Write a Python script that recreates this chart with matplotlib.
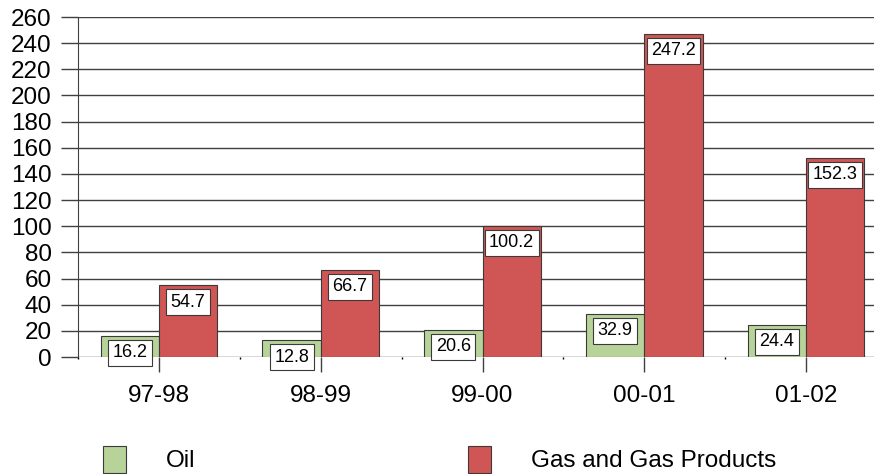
import numpy as np
import matplotlib
matplotlib.use('Agg')
import matplotlib.pyplot as plt

plt.rcParams['font.family'] = ['Liberation Sans', 'DejaVu Sans']

# data
periods = ['97-98', '98-99', '99-00', '00-01', '01-02']
oil = [16.2, 12.8, 20.6, 32.9, 24.4]
gas = [54.7, 66.7, 100.2, 247.2, 152.3]
series_names = ['Oil', 'Gas and Gas Products']
y_ticks = list(range(0, 261, 20))

green = '#b7d39a'
red = '#d05555'
edge = '#3a3a3a'
grid_col = '#404040'

fig = plt.figure(figsize=(8.74, 4.74), dpi=100)
ax = fig.add_axes([78 / 874, 117 / 474, 809 / 874, 340 / 474])

x = np.arange(len(periods))
w = 0.36
b1 = ax.bar(x - w / 2, oil, w, color=green, edgecolor=edge, linewidth=0.8, label=series_names[0], zorder=2)
b2 = ax.bar(x + w / 2, gas, w, color=red, edgecolor=edge, linewidth=0.8, label=series_names[1], zorder=2)

# value boxes, hanging from the top of each bar
for bars, vals in [(b1, oil), (b2, gas)]:
    for r, v in zip(bars, vals):
        ax.annotate(f'{v:.1f}', (r.get_x() + r.get_width() / 2, v),
                    xytext=(0, -6), textcoords='offset points',
                    ha='center', va='top', fontsize=13, zorder=4,
                    bbox=dict(boxstyle='square,pad=0.25', fc='white', ec=edge, lw=0.8))

ax.set_xlim(-0.5, len(periods) - 0.5)
ax.set_ylim(0, 260)
ax.set_yticks(y_ticks)
ax.set_xticks(x)
ax.set_xticklabels(periods)
ax.set_xticks(np.arange(len(periods) + 1) - 0.5, minor=True)

ax.yaxis.grid(True, color=grid_col, linewidth=1.0)
ax.set_axisbelow(True)
for s in ['top', 'right', 'bottom']:
    ax.spines[s].set_visible(False)
ax.spines['left'].set_color(grid_col)

ax.tick_params(axis='y', length=12, width=1.0, color=grid_col, pad=7, labelsize=17.5)
ax.tick_params(axis='x', which='major', length=10.5, width=1.0, color=grid_col, pad=10, labelsize=17.5)
ax.tick_params(axis='x', which='minor', length=1.5, width=1.0, color='black')

fig.legend(handles=[b1, b2], loc='lower left', bbox_to_anchor=(103 / 874, 1 / 474),
           ncol=2, frameon=False, fontsize=17.5, handlelength=0.95, handleheight=1.35,
           handletextpad=1.65, columnspacing=11.2, borderpad=0, borderaxespad=0)

fig.savefig('out.png', dpi=100)
